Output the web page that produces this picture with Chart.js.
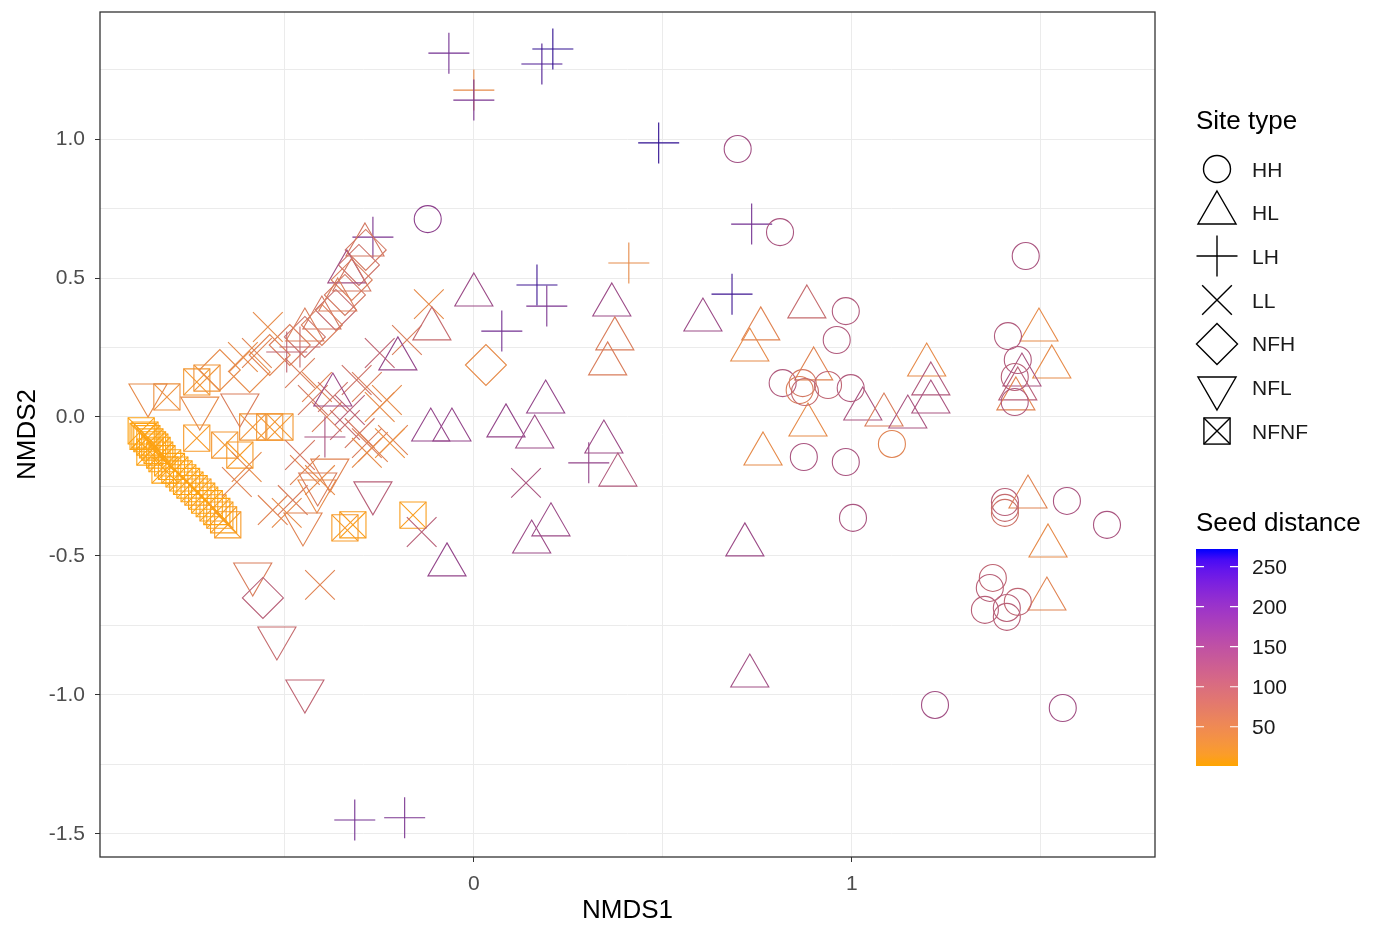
<!DOCTYPE html>
<html>
<head>
<meta charset="utf-8">
<title>NMDS ordination</title>
<script src="https://cdn.jsdelivr.net/npm/chart.js@4/dist/chart.umd.min.js"></script>
<style>
  html, body { margin: 0; padding: 0; background: #fff; }
  #wrap { position: relative; width: 1374px; height: 928px; font-family: 'Liberation Sans', Arial, sans-serif; }
  #legend .title { position: absolute; font-size: 26px; line-height: 26px; color: #000; white-space: nowrap; }
  #legend .label { position: absolute; font-size: 21px; line-height: 21px; color: #1a1a1a; white-space: nowrap; }
  #legend svg { position: absolute; overflow: visible; }
</style>
</head>
<body>
<div id="wrap">
  <canvas id="nmdsChart"></canvas>
  <div id="legend"></div>
</div>
<script>
// axis setup
const xMin = -0.989, xMax = 1.802;
const yMin = -1.583, yMax = 1.457;
const xGrid = [-0.5, 0, 0.5, 1, 1.5];
const xLabels = [0, 1];
const yGrid = [-1.5, -1.25, -1, -0.75, -0.5, -0.25, 0, 0.25, 0.5, 0.75, 1, 1.25];
const yLabels = [-1.5, -1, -0.5, 0, 0.5, 1];

// colour scale (seed distance)
const seedMin = 1, seedMax = 272;
const seedTicks = [50, 100, 150, 200, 250];
const lowColour = '#FFA500', highColour = '#0000FF';

const siteTypes = ['HH', 'HL', 'LH', 'LL', 'NFH', 'NFL', 'NFNF'];

// HH
const hhX = [0.698, -0.122, 0.810, 1.460, 0.984, 0.960, 1.413, 0.817, 0.870, 0.862, 0.876, 0.937, 0.997, 1.439, 1.431, 1.431,
    1.106, 0.873, 0.984, 1.003, 1.405, 1.405, 1.405, 1.569, 1.675, 1.373, 1.365, 1.352, 1.410, 1.439, 1.410, 1.220, 1.558];
const hhY = [0.964, 0.712, 0.665, 0.579, 0.381, 0.277, 0.291, 0.122, 0.122, 0.097, 0.090, 0.115, 0.104, 0.205, 0.144, 0.054,
    -0.097, -0.144, -0.162, -0.363, -0.306, -0.327, -0.345, -0.302, -0.388, -0.579, -0.615, -0.694, -0.719, -0.665, -0.687, -1.036, -1.047];
const hhSeed = [140, 170, 130, 130, 120, 120, 120, 120, 70, 60, 90, 100, 120, 120, 110, 120,
    50, 130, 130, 130, 110, 90, 80, 130, 130, 100, 110, 110, 110, 100, 110, 140, 140];

// HL
const hlX = [0, 0.365, -0.111, -0.201, 0.373, 0.354, 0.606, 0.759, 0.730, 0.881, 0.899, 0.884, 1.029, 1.085, 0.765,
    -0.114, -0.058, 0.085, 0.190, 0.161, 0.344, 0.381, 0.204, 0.153, -0.071, 0.717, 0.730,
    1.198, 1.209, 1.209, 1.148, 1.495, 1.529, 1.450, 1.439, 1.434, 1.466, 1.519, 1.516,
    -0.373, -0.336, -0.288, -0.323, -0.360, -0.402, -0.447];
const hlY = [0.439, 0.403, 0.317, 0.209, 0.281, 0.191, 0.349, 0.317, 0.241, 0.396, 0.173, -0.029, 0.029, 0.007, -0.133,
    -0.047, -0.047, -0.032, 0.054, -0.072, -0.090, -0.209, -0.388, -0.450, -0.532, -0.460, -0.932,
    0.187, 0.119, 0.054, 0, 0.313, 0.180, 0.151, 0.101, 0.065, -0.288, -0.464, -0.655,
    0.079, 0.522, 0.619, 0.493, 0.421, 0.356, 0.313];
const hlSeed = [150, 150, 90, 160, 60, 60, 150, 50, 40, 90, 50, 40, 130, 60, 40,
    160, 160, 160, 160, 150, 150, 120, 150, 150, 160, 150, 140,
    40, 120, 130, 130, 40, 40, 130, 110, 50, 50, 40, 50,
    150, 140, 70, 70, 60, 70, 60];

// LH
const lhX = [-0.066, 0, 0, 0.180, 0.209, 0.489, 0.735, 0.410, 0.683, 0.167, 0.193, 0.074, -0.267, 0.304, -0.315, -0.183, -0.394, -0.495, -0.460];
const lhY = [1.309, 1.176, 1.140, 1.270, 1.324, 0.986, 0.694, 0.554, 0.442, 0.475, 0.399, 0.309, 0.647, -0.165, -1.450, -1.442, -0.072, 0.234, 0.252];
const lhSeed = [200, 40, 190, 240, 260, 260, 200, 40, 250, 250, 190, 200, 190, 160, 200, 190, 130, 100, 90];

// LL
const llX = [-0.119, -0.177, 0.138, -0.138, -0.407, -0.545, -0.574, -0.611, -0.460, -0.426, -0.389, -0.415, -0.302, -0.249,
    -0.310, -0.283, -0.230, -0.214, -0.249, -0.222, -0.283, -0.373, -0.267, -0.283, -0.532, -0.495, -0.479, -0.601, -0.627,
    -0.328, -0.341, -0.460, -0.447, -0.407];
const llY = [0.406, 0.277, -0.237, -0.414, -0.604, 0.324, 0.230, 0.216, 0.158, 0.061, 0, 0.108, -0.058, 0.230,
    0.133, 0.108, 0.061, -0.083, 0.036, -0.094, -0.094, 0.072, -0.108, -0.129, -0.335, -0.345, -0.299, -0.180, -0.234,
    0.025, -0.029, -0.137, -0.191, -0.227];
const llSeed = [40, 60, 130, 110, 50, 40, 50, 40, 60, 70, 60, 50, 70, 100,
    80, 60, 40, 50, 40, 30, 60, 80, 50, 40, 50, 40, 60, 40, 50,
    110, 90, 70, 50, 40];

// NFH
const nfhX = [0.032, -0.558, -0.286, -0.304, -0.323, -0.341, -0.365, -0.402, -0.447, -0.487, -0.540, -0.672, -0.593];
const nfhY = [0.187, -0.651, 0.601, 0.547, 0.493, 0.439, 0.385, 0.331, 0.288, 0.259, 0.223, 0.169, 0.162];
const nfhSeed = [40, 110, 70, 80, 60, 70, 90, 60, 80, 60, 50, 40, 40];

// NFL
const nflX = [-0.267, -0.415, -0.452, -0.585, -0.521, -0.447, -0.413, -0.862, -0.725, -0.619, -0.381];
const nflY = [-0.273, -0.266, -0.385, -0.565, -0.795, -0.986, -0.241, 0.079, 0.032, 0.043, -0.191];
const nflSeed = [110, 40, 50, 60, 90, 100, 60, 40, 40, 60, 50];

// NFNF
const nfnfX = [-0.513, -0.585, -0.733, -0.659, -0.619, -0.341, -0.320, -0.161, -0.812, -0.733, -0.706, -0.540,
    -0.870, -0.857, -0.844, -0.831, -0.810, -0.791, -0.770, -0.751, -0.730, -0.712, -0.690, -0.672, -0.651, -0.857, -0.817,
    -0.865, -0.850, -0.838, -0.825, -0.800, -0.780, -0.760, -0.740, -0.720, -0.700, -0.680, -0.662, -0.880, -0.875];
const nfnfY = [-0.036, -0.036, -0.076, -0.101, -0.137, -0.399, -0.388, -0.353, 0.072, 0.126, 0.140, -0.036,
    -0.065, -0.090, -0.108, -0.137, -0.165, -0.191, -0.219, -0.245, -0.270, -0.299, -0.327, -0.353, -0.388, -0.126, -0.191,
    -0.078, -0.100, -0.120, -0.150, -0.178, -0.205, -0.232, -0.258, -0.285, -0.312, -0.340, -0.370, -0.050, -0.070];
const nfnfSeed = [20, 25, 15, 20, 15, 15, 10, 10, 30, 20, 25, 20,
    5, 5, 5, 5, 5, 5, 5, 5, 10, 5, 10, 10, 15, 5, 5,
    5, 5, 5, 5, 5, 5, 5, 5, 5, 5, 5, 10, 5, 5];

// point sizes per shape (px)
const radius = { HH: 13.5, HL: 22, LH: 20.5, LL: 21, NFH: 20.5, NFL: 22, NFNF: 18.5 };

document.addEventListener('DOMContentLoaded', () => {
    Chart.defaults.font.family = "'Liberation Sans', Arial, sans-serif";
    const ctx = document.getElementById('nmdsChart').getContext('2d');
    createChart(ctx);
    buildLegend();
});

/* --- colour helpers: ggplot style gradient, interpolated in CIELAB --- */
function toLinear(c) {
    c /= 255;
    return c <= 0.04045 ? c / 12.92 : Math.pow((c + 0.055) / 1.055, 2.4);
}
function fromLinear(c) {
    c = c <= 0.0031308 ? 12.92 * c : 1.055 * Math.pow(c, 1 / 2.4) - 0.055;
    return Math.round(Math.max(0, Math.min(1, c)) * 255);
}
function hexToLab(hex) {
    const n = parseInt(hex.slice(1), 16);
    const r = toLinear((n >> 16) & 255), g = toLinear((n >> 8) & 255), b = toLinear(n & 255);
    const X = (0.4124 * r + 0.3576 * g + 0.1805 * b) / 0.95047;
    const Y = 0.2126 * r + 0.7152 * g + 0.0722 * b;
    const Z = (0.0193 * r + 0.1192 * g + 0.9505 * b) / 1.08883;
    const f = t => t > 0.008856 ? Math.cbrt(t) : 7.787 * t + 16 / 116;
    return [116 * f(Y) - 16, 500 * (f(X) - f(Y)), 200 * (f(Y) - f(Z))];
}
function labToRgb(L, a, b) {
    const fy = (L + 16) / 116, fx = fy + a / 500, fz = fy - b / 200;
    const inv = t => t * t * t > 0.008856 ? t * t * t : (t - 16 / 116) / 7.787;
    const X = inv(fx) * 0.95047, Y = inv(fy), Z = inv(fz) * 1.08883;
    const r = 3.2406 * X - 1.5372 * Y - 0.4986 * Z;
    const g = -0.9689 * X + 1.8758 * Y + 0.0415 * Z;
    const bl = 0.0557 * X - 0.2040 * Y + 1.0570 * Z;
    return [fromLinear(r), fromLinear(g), fromLinear(bl)];
}
const labLow = hexToLab(lowColour), labHigh = hexToLab(highColour);
function seedT(v) {
    return Math.max(0, Math.min(1, (v - seedMin) / (seedMax - seedMin)));
}
function seedRgb(v) {
    const t = seedT(v);
    return labToRgb(
        labLow[0] + (labHigh[0] - labLow[0]) * t,
        labLow[1] + (labHigh[1] - labLow[1]) * t,
        labLow[2] + (labHigh[2] - labLow[2]) * t
    );
}
function seedColour(v) {
    const [r, g, b] = seedRgb(v);
    return `rgb(${r}, ${g}, ${b})`;
}
// the thin outlines in the original read duller at the purple/blue end
function pointColour(v) {
    const [r, g, b] = seedRgb(v);
    const t = seedT(v);
    const grey = 0.3 * r + 0.59 * g + 0.11 * b;
    const mix = 0.3 * t, dark = 1 - 0.25 * t;
    const dull = c => Math.round((c * (1 - mix) + grey * mix) * dark);
    return `rgb(${dull(r)}, ${dull(g)}, ${dull(b)})`;
}

function makeSet(label, xs, ys, seeds, style, r, rotation) {
    return {
        label,
        data: xs.map((x, i) => ({ x, y: ys[i] })),
        pointStyle: style,
        pointRadius: r,
        pointHoverRadius: r,
        pointRotation: rotation || 0,
        pointBorderColor: seeds.map(pointColour),
        pointBackgroundColor: 'rgba(0,0,0,0)',
        pointBorderWidth: 1.1,
        pointHoverBorderWidth: 1.1
    };
}

// panel border like theme_bw
const panelBorder = {
    id: 'panelBorder',
    afterDatasetsDraw(chart) {
        const { ctx, chartArea: a } = chart;
        ctx.save();
        ctx.strokeStyle = '#333333';
        ctx.lineWidth = 1.3;
        ctx.strokeRect(a.left, a.top, a.right - a.left, a.bottom - a.top);
        ctx.restore();
    }
};

function createChart(ctx) {
    const datasets = [
        makeSet('HH', hhX, hhY, hhSeed, 'circle', radius.HH),
        makeSet('HL', hlX, hlY, hlSeed, 'triangle', radius.HL),
        makeSet('LH', lhX, lhY, lhSeed, 'cross', radius.LH),
        makeSet('LL', llX, llY, llSeed, 'crossRot', radius.LL),
        makeSet('NFH', nfhX, nfhY, nfhSeed, 'rectRot', radius.NFH),
        makeSet('NFL', nflX, nflY, nflSeed, 'triangle', radius.NFL, 180),
        makeSet('NFNF', nfnfX, nfnfY, nfnfSeed, 'rect', radius.NFNF),
        makeSet('NFNF', nfnfX, nfnfY, nfnfSeed, 'crossRot', radius.NFNF)
    ];

    new Chart(ctx, {
        type: 'scatter',
        data: { datasets },
        options: {
            responsive: true,
            maintainAspectRatio: false,
            animation: false,
            layout: { autoPadding: false, padding: { left: 8, right: 219, top: 12, bottom: 0 } },
            plugins: {
                legend: { display: false },
                tooltip: { enabled: false }
            },
            scales: {
                x: {
                    type: 'linear',
                    min: xMin,
                    max: xMax,
                    afterBuildTicks: s => { s.ticks = xGrid.map(v => ({ value: v })); },
                    afterFit: s => { s.height = 71; },
                    ticks: {
                        autoSkip: false,
                        maxRotation: 0,
                        padding: 10,
                        color: '#4d4d4d',
                        font: { size: 21 },
                        callback: v => xLabels.includes(v) ? String(v) : ''
                    },
                    grid: {
                        color: '#ebebeb',
                        lineWidth: 1,
                        tickLength: 5,
                        tickColor: c => xLabels.includes(c.tick.value) ? '#333333' : 'rgba(0,0,0,0)'
                    },
                    border: { display: false },
                    title: {
                        display: true,
                        text: 'NMDS1',
                        color: '#000',
                        font: { size: 26 },
                        padding: { top: 0, bottom: 2 }
                    }
                },
                y: {
                    type: 'linear',
                    min: yMin,
                    max: yMax,
                    afterBuildTicks: s => { s.ticks = yGrid.map(v => ({ value: v })); },
                    afterFit: s => { s.width = 92; },
                    ticks: {
                        autoSkip: false,
                        padding: 10,
                        color: '#4d4d4d',
                        // unlabelled minor ticks get a tiny font so they do not pad the panel
                        font: c => ({ size: c.tick && yLabels.includes(c.tick.value) ? 21 : 1 }),
                        callback: v => yLabels.includes(v) ? v.toFixed(1) : ''
                    },
                    grid: {
                        color: '#ebebeb',
                        lineWidth: 1,
                        tickLength: 5,
                        tickColor: c => yLabels.includes(c.tick.value) ? '#333333' : 'rgba(0,0,0,0)'
                    },
                    border: { display: false },
                    title: {
                        display: true,
                        text: 'NMDS2',
                        color: '#000',
                        font: { size: 26 },
                        padding: { top: 4, bottom: 0 }
                    }
                }
            }
        },
        plugins: [panelBorder]
    });
}

/* --- legend: shape keys and colour bar --- */
function keyShape(name) {
    const c = 22, s = 'fill="none" stroke="#000" stroke-width="1.4"';
    const r = radius[name];
    const pts = arr => arr.map(p => p.join(',')).join(' ');
    switch (name) {
        case 'HH':
            return `<circle cx="${c}" cy="${c}" r="${r}" ${s}/>`;
        case 'HL': {
            const h = r * Math.sqrt(3) / 2;
            return `<polygon points="${pts([[c, c - r], [c + h, c + r / 2], [c - h, c + r / 2]])}" ${s}/>`;
        }
        case 'NFL': {
            const h = r * Math.sqrt(3) / 2;
            return `<polygon points="${pts([[c, c + r], [c + h, c - r / 2], [c - h, c - r / 2]])}" ${s}/>`;
        }
        case 'LH':
            return `<path d="M${c - r} ${c}H${c + r}M${c} ${c - r}V${c + r}" ${s}/>`;
        case 'LL': {
            const o = r * Math.SQRT1_2;
            return `<path d="M${c - o} ${c - o}L${c + o} ${c + o}M${c - o} ${c + o}L${c + o} ${c - o}" ${s}/>`;
        }
        case 'NFH':
            return `<polygon points="${pts([[c, c - r], [c + r, c], [c, c + r], [c - r, c]])}" ${s}/>`;
        case 'NFNF': {
            const o = r * Math.SQRT1_2;
            return `<rect x="${c - o}" y="${c - o}" width="${2 * o}" height="${2 * o}" ${s}/>` +
                `<path d="M${c - o} ${c - o}L${c + o} ${c + o}M${c - o} ${c + o}L${c + o} ${c - o}" ${s}/>`;
        }
    }
    return '';
}

function buildLegend() {
    const legend = document.getElementById('legend');
    let html = `<div class="title" style="left:1196px;top:${120 - 13}px">Site type</div>`;
    siteTypes.forEach((name, i) => {
        const cy = 169 + i * 43.7;
        html += `<svg width="44" height="44" style="left:1195px;top:${cy - 22}px">${keyShape(name)}</svg>`;
        html += `<div class="label" style="left:1252px;top:${cy - 10.5}px">${name}</div>`;
    });

    html += `<div class="title" style="left:1196px;top:${522 - 13}px">Seed distance</div>`;
    const barTop = 549, barH = 217, barW = 42;
    let stops = '';
    for (let j = 0; j <= 20; j++) {
        const v = seedMax - (seedMax - seedMin) * j / 20;
        stops += `<stop offset="${j / 20}" stop-color="${seedColour(v)}"/>`;
    }
    let marks = '';
    seedTicks.forEach(v => {
        const y = barH - (v - seedMin) / (seedMax - seedMin) * barH;
        marks += `<path d="M0 ${y}H8M${barW - 8} ${y}H${barW}" stroke="#fff" stroke-width="1.2"/>`;
        html += `<div class="label" style="left:1252px;top:${barTop + y - 10.5}px">${v}</div>`;
    });
    html += `<svg width="${barW}" height="${barH}" style="left:1196px;top:${barTop}px">` +
        `<defs><linearGradient id="seedGrad" x1="0" y1="0" x2="0" y2="1">${stops}</linearGradient></defs>` +
        `<rect x="0" y="0" width="${barW}" height="${barH}" fill="url(#seedGrad)"/>${marks}</svg>`;
    legend.innerHTML = html;
}
</script>
</body>
</html>
